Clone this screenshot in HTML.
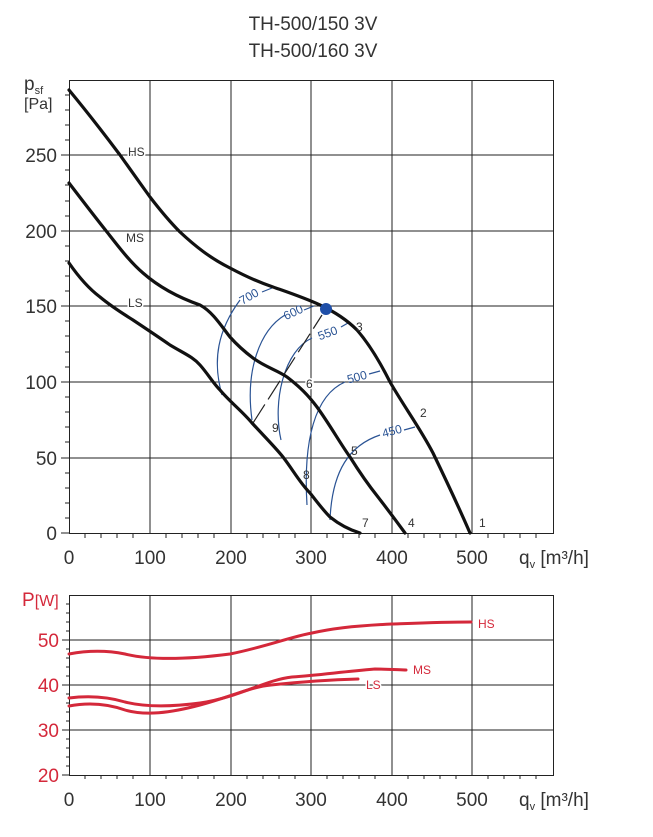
<!DOCTYPE html>
<html><head><meta charset="utf-8"><style>
html,body{margin:0;padding:0;background:#fff;}
svg{display:block;font-family:"Liberation Sans",sans-serif;}
</style></head><body>
<svg width="653" height="837" viewBox="0 0 653 837" xmlns="http://www.w3.org/2000/svg">
<text x="313" y="30" font-size="19" text-anchor="middle" fill="#333">TH-500/150 3V</text>
<text x="313" y="57" font-size="19" text-anchor="middle" fill="#333">TH-500/160 3V</text>
<g stroke="#222" stroke-width="1" fill="none">
<rect x="69.5" y="80.5" width="484" height="453"/>
<line x1="150" y1="80" x2="150" y2="533"/><line x1="231" y1="80" x2="231" y2="533"/>
<line x1="311" y1="80" x2="311" y2="533"/><line x1="392" y1="80" x2="392" y2="533"/>
<line x1="472" y1="80" x2="472" y2="533"/>
<line x1="69" y1="155" x2="553" y2="155"/><line x1="69" y1="231" x2="553" y2="231"/>
<line x1="69" y1="306" x2="553" y2="306"/><line x1="69" y1="382" x2="553" y2="382"/>
<line x1="69" y1="458" x2="553" y2="458"/>
</g>
<g stroke="#222" stroke-width="1">
<path d="M61 155H69M61 231H69M61 306H69M61 382H69M61 458H69M61 533H69"/>
<path d="M65 95H69M65 110H69M65 125H69M65 140H69M65 170H69M65 185H69M65 201H69M65 216H69M65 246H69M65 261H69M65 276H69M65 291H69M65 321H69M65 336H69M65 352H69M65 367H69M65 397H69M65 412H69M65 427H69M65 442H69M65 473H69M65 488H69M65 503H69M65 518H69"/>
<path d="M85 533V538M101 533V538M117 533V538M133 533V538M166 533V538M182 533V538M198 533V538M214 533V538M247 533V538M263 533V538M279 533V538M295 533V538M327 533V538M343 533V538M359 533V538M375 533V538M408 533V538M424 533V538M440 533V538M456 533V538M488 533V538M504 533V538M520 533V538M536 533V538"/>
</g>
<g font-size="19" fill="#333" text-anchor="end">
<text x="57" y="162">250</text><text x="57" y="238">200</text><text x="57" y="313">150</text>
<text x="57" y="389">100</text><text x="57" y="465">50</text><text x="57" y="540">0</text>
</g>
<text x="24" y="90" font-size="19" fill="#333">p<tspan font-size="11" dy="4">sf</tspan></text>
<text x="24" y="109" font-size="16" fill="#333">[Pa]</text>
<g font-size="19" fill="#333" text-anchor="middle">
<text x="69" y="564">0</text><text x="150" y="564">100</text><text x="231" y="564">200</text>
<text x="311" y="564">300</text><text x="392" y="564">400</text><text x="472" y="564">500</text>
</g>
<text x="519" y="564" font-size="19" fill="#333">q<tspan font-size="11" dy="4">v</tspan><tspan dy="-4"> [m³/h]</tspan></text>
<g stroke="#2a5394" stroke-width="1.2" fill="none">
<path d="M222 395 C212 360 218 330 240 300"/><path d="M262 292 L272 288"/>
<path d="M252 420 C245 370 260 330 285 315"/><path d="M304 310 L314 306"/>
<path d="M281 440 C272 400 285 350 312 338"/><path d="M341 327 L348 323"/>
<path d="M307 505 C303 440 315 395 345 382"/><path d="M369 374 L380 371"/>
<path d="M330 520 C332 470 350 445 380 435"/><path d="M404 430 L415 427"/>
<path d="M253 423 L322 315" stroke="#222" stroke-dasharray="22 6"/>
</g>
<g font-size="12" fill="#2a5394" text-anchor="middle">
<text x="251" y="300" transform="rotate(-30 251 300)">700</text>
<text x="295" y="316" transform="rotate(-25 295 316)">600</text>
<text x="329" y="337" transform="rotate(-20 329 337)">550</text>
<text x="358" y="381" transform="rotate(-15 358 381)">500</text>
<text x="393" y="435" transform="rotate(-15 393 435)">450</text>
</g>
<g stroke="#111" stroke-width="3.2" fill="none" stroke-linecap="round" stroke-linejoin="round">
<path d="M69 90 C88 113 105 135 120 155 C132 172 140 183 150 197 C160 210 170 222 180 232 C195 246 210 258 230 268 C245 276 258 282 273 287 C290 293 305 298 320 305 C335 312 347 320 357 330 C370 345 380 362 390 382 C405 408 420 428 433 453 C447 482 460 510 470 533"/>
<path d="M69 183 C82 200 95 217 107 232 C118 246 130 262 143 273 C160 288 180 298 200 305 C213 312 222 327 230 337 C238 346 245 352 253 358 C265 367 277 370 287 377 C300 387 308 395 317 407 C330 425 340 443 350 457 C360 473 370 487 378 497 C388 510 397 522 405 533"/>
<path d="M69 263 C78 276 88 288 100 297 C112 307 122 313 133 320 C148 330 160 338 170 345 C185 354 193 357 200 365 C208 374 213 383 220 390 C230 402 242 411 252 423 C263 435 275 447 283 457 C293 470 300 483 310 493 C318 503 323 510 330 517 C340 525 350 530 360 533"/>
</g>
<circle cx="326" cy="309" r="6" fill="#1f4fa8"/>
<g font-size="12" fill="#333">
<text x="128" y="156" stroke="#fff" stroke-width="3" paint-order="stroke">HS</text>
<text x="126" y="242" stroke="#fff" stroke-width="3" paint-order="stroke">MS</text>
<text x="128" y="307" stroke="#fff" stroke-width="3" paint-order="stroke">LS</text>
<text x="356" y="331">3</text><text x="420" y="417">2</text><text x="479" y="527">1</text>
<text x="408" y="527">4</text><text x="362" y="527">7</text><text x="351" y="455">5</text>
<text x="306" y="388" stroke="#fff" stroke-width="3" paint-order="stroke">6</text><text x="303" y="479">8</text><text x="272" y="432">9</text>
</g>
<g stroke="#222" stroke-width="1" fill="none">
<rect x="69.5" y="595.5" width="484" height="180"/>
<line x1="150" y1="595" x2="150" y2="775"/><line x1="231" y1="595" x2="231" y2="775"/>
<line x1="311" y1="595" x2="311" y2="775"/><line x1="392" y1="595" x2="392" y2="775"/>
<line x1="472" y1="595" x2="472" y2="775"/>
<line x1="69" y1="640" x2="553" y2="640"/><line x1="69" y1="685" x2="553" y2="685"/>
<line x1="69" y1="730" x2="553" y2="730"/>
</g>
<g stroke="#222" stroke-width="1">
<path d="M62 640H69M62 685H69M62 730H69M62 775H69"/>
<path d="M66 604H69M66 613H69M66 622H69M66 631H69M66 649H69M66 658H69M66 667H69M66 676H69M66 694H69M66 703H69M66 712H69M66 721H69M66 739H69M66 748H69M66 757H69M66 766H69"/>
<path d="M85 775V779M101 775V779M117 775V779M133 775V779M166 775V779M182 775V779M198 775V779M214 775V779M247 775V779M263 775V779M279 775V779M295 775V779M327 775V779M343 775V779M359 775V779M375 775V779M408 775V779M424 775V779M440 775V779M456 775V779M488 775V779M504 775V779M520 775V779M536 775V779"/>
</g>
<g font-size="19" fill="#d4283a" text-anchor="end">
<text x="59" y="647">50</text><text x="59" y="692">40</text><text x="59" y="737">30</text><text x="59" y="782">20</text>
</g>
<text x="22" y="606" font-size="19" fill="#d4283a">P<tspan font-size="16">[W]</tspan></text>
<g font-size="19" fill="#333" text-anchor="middle">
<text x="69" y="806">0</text><text x="150" y="806">100</text><text x="231" y="806">200</text>
<text x="311" y="806">300</text><text x="392" y="806">400</text><text x="472" y="806">500</text>
</g>
<text x="519" y="806" font-size="19" fill="#333">q<tspan font-size="11" dy="4">v</tspan><tspan dy="-4"> [m³/h]</tspan></text>
<g stroke="#d4283a" stroke-width="3" fill="none" stroke-linecap="round">
<path d="M69 654 C85 651 105 650 125 654 C145 659 175 661 230 654 C265 647 290 637 312 633 C330 629 350 626 392 624 C420 623 445 622 471 622"/>
<path d="M69 698 C85 696 105 696 125 702 C145 707 170 707 200 703 C240 697 265 680 292 677 C320 675 340 672 375 669 C390 669 400 670 406 670"/>
<path d="M69 706 C85 703 105 703 125 710 C145 716 170 713 200 705 C230 697 250 687 271 685 C290 683 320 680 358 679"/>
</g>
<g font-size="12" fill="#d4283a">
<text x="478" y="628">HS</text><text x="413" y="674">MS</text>
<text x="366" y="689" stroke="#fff" stroke-width="3" paint-order="stroke">LS</text>
</g>
</svg>
</body></html>
